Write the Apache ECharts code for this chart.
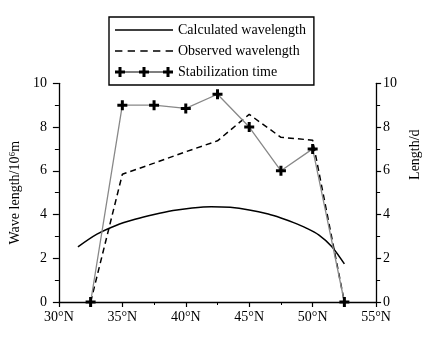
<!DOCTYPE html>
<html>
<head>
<meta charset="utf-8">
<script src="https://cdn.jsdelivr.net/npm/echarts@6/dist/echarts.min.js"></script>
<style>html,body{margin:0;padding:0;background:#fff}#c{width:430px;height:338px}</style>
</head>
<body>
<div id="c"></div>
<script>
var seriesNames = ['Calculated wavelength', 'Observed wavelength', 'Stabilization time'];
var calcLat = [31.5, 33, 34.5, 36, 37.5, 39, 40.5, 42, 43.5, 45, 46.5, 47.5, 48.5, 49.5, 50.5, 51.5, 52.5];
var calcValues = [2.52, 3.1, 3.5, 3.78, 4.0, 4.18, 4.3, 4.36, 4.33, 4.21, 4.02, 3.84, 3.63, 3.38, 3.06, 2.54, 1.74];
var obsLat = [32.5, 35, 37.5, 40, 42.5, 45, 47.5, 50, 52.5];
var obsValues = [0, 5.84, 6.35, 6.87, 7.37, 8.58, 7.53, 7.4, 0];
var stabLat = [32.5, 35, 37.5, 40, 42.5, 45, 47.5, 50, 52.5];
var stabValues = [0, 9, 9, 8.85, 9.5, 8, 6, 7, 0];
var yTicks = [0, 2, 4, 6, 8, 10];

function pairs(xs, ys) { return xs.map(function (x, i) { return [x, ys[i]]; }); }

var FONT = 'Liberation Serif';
var plusSymbol = 'path://M3.5,0h3v10h-3z M0,3.5h10v3h-10z';
var legendSolidIcon = 'path://M0,0h56v1.4h-56z';
var legendDashIcon = 'path://M0,0h7v1.4h-7z M12,0h7v1.4h-7z M24,0h7v1.4h-7z M36,0h7v1.4h-7z M48,0h7v1.4h-7z';
var legendStabIcon = 'path://M0,4.6h58v0.8h-58z M0,3.5h10v3h-10z M3.5,0h3v10h-3z M24,3.5h10v3h-10z M27.5,0h3v10h-3z M48,3.5h10v3h-10z M51.5,0h3v10h-3z';

var axisLineStyle = { color: '#000', width: 1.3 };

var chart = echarts.init(document.getElementById('c'), null, { renderer: 'canvas' });
chart.setOption({
  animation: false,
  backgroundColor: '#fff',
  textStyle: { fontFamily: FONT },
  grid: { left: 56, right: 47.3, top: 83.3, bottom: 36, containLabel: false },
  legend: {
    orient: 'vertical',
    left: 109, top: 17,
    padding: [6, 8, 6, 6],
    itemWidth: 58, itemHeight: 14, itemGap: 7,
    itemTextGap: 10,
    borderColor: '#000', borderWidth: 1.4,
    backgroundColor: '#fff',
    textStyle: { fontFamily: FONT, fontSize: 14, color: '#000' },
    data: [
      { name: seriesNames[0], icon: legendSolidIcon, itemStyle: { color: '#000' } },
      { name: seriesNames[1], icon: legendDashIcon, itemStyle: { color: '#000' } },
      { name: seriesNames[2], icon: legendStabIcon, itemStyle: { color: '#000' } }
    ]
  },
  xAxis: {
    type: 'value', min: 30, max: 55, interval: 5,
    axisLine: { show: true, onZero: false, lineStyle: axisLineStyle },
    axisTick: { show: true, length: 5, lineStyle: { color: '#000', width: 1.2 } },
    minorTick: { show: true, splitNumber: 2, length: 3, lineStyle: { color: '#000', width: 1 } },
    splitLine: { show: false },
    axisLabel: { formatter: '{value}°N', color: '#000', fontFamily: FONT, fontSize: 14, margin: 8 }
  },
  yAxis: [
    {
      type: 'value', min: yTicks[0], max: yTicks[yTicks.length - 1], interval: 2,
      position: 'left',
      name: 'Wave length/10⁶m', nameLocation: 'middle', nameGap: 28,
      nameTextStyle: { fontFamily: FONT, fontSize: 14, color: '#000' },
      axisLine: { show: true, lineStyle: axisLineStyle },
      axisTick: { show: true, length: 6, lineStyle: { color: '#000', width: 1.2 } },
      minorTick: { show: true, splitNumber: 2, length: 4, lineStyle: { color: '#000', width: 1 } },
      splitLine: { show: false },
      axisLabel: { color: '#000', fontFamily: FONT, fontSize: 14, margin: 12 }
    },
    {
      type: 'value', min: yTicks[0], max: yTicks[yTicks.length - 1], interval: 2,
      position: 'right',
      name: 'Length/d', nameLocation: 'middle', nameGap: 26,
      nameTextStyle: { fontFamily: FONT, fontSize: 14, color: '#000', padding: [0, 0, 0, 76] },
      axisLine: { show: true, lineStyle: axisLineStyle },
      axisTick: { show: true, length: 5, lineStyle: { color: '#000', width: 1.2 } },
      minorTick: { show: true, splitNumber: 2, length: 4, lineStyle: { color: '#000', width: 1 } },
      splitLine: { show: false },
      axisLabel: { color: '#000', fontFamily: FONT, fontSize: 14, margin: 7 }
    }
  ],
  series: [
    {
      name: seriesNames[0], type: 'line', yAxisIndex: 0,
      data: pairs(calcLat, calcValues),
      smooth: 0.3, symbol: 'none',
      itemStyle: { color: '#000' },
      lineStyle: { color: '#000', width: 1.5 },
      z: 2
    },
    {
      name: seriesNames[1], type: 'line', yAxisIndex: 0,
      data: pairs(obsLat, obsValues),
      symbol: 'none',
      itemStyle: { color: '#000' },
      lineStyle: { color: '#000', width: 1.5, type: [6, 4] },
      z: 3
    },
    {
      name: seriesNames[2], type: 'line', yAxisIndex: 1,
      data: pairs(stabLat, stabValues),
      symbol: plusSymbol, symbolSize: 10,
      itemStyle: { color: '#000' },
      lineStyle: { color: '#888', width: 1.3 },
      z: 4
    }
  ]
});
</script>
</body>
</html>
